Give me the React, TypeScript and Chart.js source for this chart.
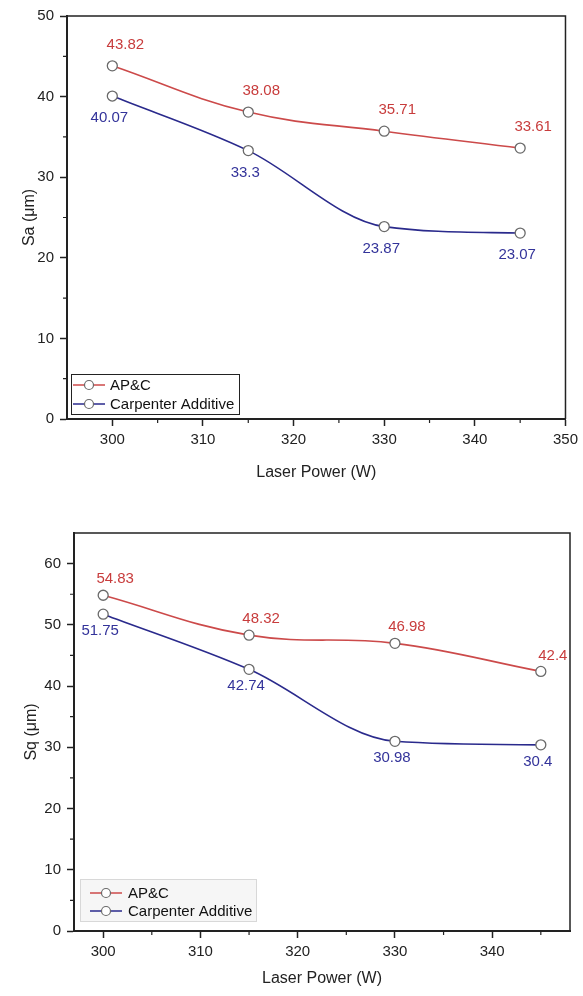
import React, { useEffect, useRef } from 'react';
import Chart from 'chart.js/auto';

// ---------- data ----------
const laserPower = [300, 315, 330, 345];
const seriesNames = ['AP&C', 'Carpenter Additive'];

const saAPC = [43.82, 38.08, 35.71, 33.61];
const saCarpenter = [40.07, 33.3, 23.87, 23.07];

const sqAPC = [54.83, 48.32, 46.98, 42.4];
const sqCarpenter = [51.75, 42.74, 30.98, 30.4];

const xTicksSa = [300, 310, 320, 330, 340, 350];
const yTicksSa = [0, 10, 20, 30, 40, 50];
const xMinorSa = [305, 315, 325, 335, 345];
const yMinorSa = [5, 15, 25, 35, 45];

const xTicksSq = [300, 310, 320, 330, 340];
const yTicksSq = [0, 10, 20, 30, 40, 50, 60];
const xMinorSq = [305, 315, 325, 335, 345];
const yMinorSq = [5, 15, 25, 35, 45, 55];

// ---------- styles ----------
const FONT = "'Liberation Sans', Arial, sans-serif";
const RED = '#cc4a4a';
const BLUE = '#2a2a8c';
const RED_TEXT = '#c83c3c';
const BLUE_TEXT = '#33339a';
const AXIS = '#222222';
const MARKER_EDGE = '#6a6a6a';

type Panel = {
  top: number;
  height: number;
  yTitle: string;
  apc: number[];
  carp: number[];
  xMin: number;
  xMax: number;
  yMin: number;
  yMax: number;
  xTicks: number[];
  yTicks: number[];
  xMinor: number[];
  yMinor: number[];
  pad: { top: number; right: number };
  yAxisWidth: number;
  xAxisHeight: number;
  yTitlePad: number;
  labelOffset: { redDx: number; redDy: number; blueDx: number; blueDy: number };
  legend: { dx: number; dy: number; w: number; h: number; lineX0: number; lineX1: number; circX: number; textX: number; rows: number[]; fill: string; border: string };
};

const panels: Panel[] = [
  {
    top: 0,
    height: 490,
    yTitle: 'Sa (μm)',
    apc: saAPC,
    carp: saCarpenter,
    xMin: 295,
    xMax: 350,
    yMin: 0,
    yMax: 50,
    xTicks: xTicksSa,
    yTicks: yTicksSa,
    xMinor: xMinorSa,
    yMinor: yMinorSa,
    pad: { top: 16, right: 16 },
    yAxisWidth: 67,
    xAxisHeight: 71,
    yTitlePad: 20,
    labelOffset: { redDx: 13, redDy: -21, blueDx: -3, blueDy: 22 },
    legend: { dx: 4, dy: -5, w: 168, h: 40, lineX0: 2, lineX1: 34, circX: 18, textX: 39, rows: [11, 30], fill: '#ffffff', border: '#222222' },
  },
  {
    top: 500,
    height: 496,
    yTitle: 'Sq (μm)',
    apc: sqAPC,
    carp: sqCarpenter,
    xMin: 297,
    xMax: 348,
    yMin: 0,
    yMax: 65,
    xTicks: xTicksSq,
    yTicks: yTicksSq,
    xMinor: xMinorSq,
    yMinor: yMinorSq,
    pad: { top: 33, right: 13 },
    yAxisWidth: 74,
    xAxisHeight: 65,
    yTitlePad: 22,
    labelOffset: { redDx: 12, redDy: -16, blueDx: -3, blueDy: 17 },
    legend: { dx: 6, dy: -10, w: 176, h: 42, lineX0: 10, lineX1: 42, circX: 26, textX: 48, rows: [14, 32], fill: '#f6f6f6', border: '#d8d8d8' },
  },
];

function buildConfig(p: Panel): any {
  const mk = (vals: number[]) => laserPower.map((x, i) => ({ x, y: vals[i] }));

  const framePlugin = {
    id: 'frame',
    afterDraw(chart: any) {
      const { ctx, chartArea: a } = chart;
      ctx.save();
      ctx.strokeStyle = AXIS;
      ctx.lineWidth = 1.5;
      ctx.beginPath();
      ctx.moveTo(a.left, a.top);
      ctx.lineTo(a.right, a.top);
      ctx.lineTo(a.right, a.bottom);
      ctx.stroke();
      // minor ticks
      ctx.lineWidth = 1.2;
      const xs = chart.scales.x;
      const ys = chart.scales.y;
      ctx.beginPath();
      p.xMinor.forEach((v) => {
        const px = xs.getPixelForValue(v);
        ctx.moveTo(px, a.bottom);
        ctx.lineTo(px, a.bottom + 4);
      });
      p.yMinor.forEach((v) => {
        const py = ys.getPixelForValue(v);
        ctx.moveTo(a.left, py);
        ctx.lineTo(a.left - 4, py);
      });
      ctx.stroke();
      ctx.restore();
    },
  };

  const labelPlugin = {
    id: 'valueLabels',
    afterDatasetsDraw(chart: any) {
      const { ctx } = chart;
      const o = p.labelOffset;
      ctx.save();
      ctx.font = `15px ${FONT}`;
      ctx.textAlign = 'center';
      ctx.textBaseline = 'middle';
      chart.data.datasets.forEach((ds: any, di: number) => {
        const meta = chart.getDatasetMeta(di);
        ctx.fillStyle = di === 0 ? RED_TEXT : BLUE_TEXT;
        const dx = di === 0 ? o.redDx : o.blueDx;
        const dy = di === 0 ? o.redDy : o.blueDy;
        meta.data.forEach((el: any, i: number) => {
          ctx.fillText(String(ds.data[i].y), el.x + dx, el.y + dy);
        });
      });
      ctx.restore();
    },
  };

  const legendPlugin = {
    id: 'boxLegend',
    afterDraw(chart: any) {
      const { ctx, chartArea: a } = chart;
      const L = p.legend;
      const x0 = a.left + L.dx;
      const y0 = a.bottom + L.dy - L.h;
      ctx.save();
      ctx.fillStyle = L.fill;
      ctx.fillRect(x0, y0, L.w, L.h);
      ctx.strokeStyle = L.border;
      ctx.lineWidth = 1;
      ctx.strokeRect(x0 + 0.5, y0 + 0.5, L.w, L.h);
      ctx.font = `15px ${FONT}`;
      ctx.textBaseline = 'middle';
      ctx.textAlign = 'left';
      seriesNames.forEach((name, i) => {
        const y = y0 + L.rows[i];
        ctx.strokeStyle = i === 0 ? RED : BLUE;
        ctx.lineWidth = 1.5;
        ctx.beginPath();
        ctx.moveTo(x0 + L.lineX0, y);
        ctx.lineTo(x0 + L.lineX1, y);
        ctx.stroke();
        ctx.beginPath();
        ctx.arc(x0 + L.circX, y, 4.5, 0, Math.PI * 2);
        ctx.fillStyle = '#ffffff';
        ctx.fill();
        ctx.strokeStyle = MARKER_EDGE;
        ctx.lineWidth = 1.2;
        ctx.stroke();
        ctx.fillStyle = '#111111';
        ctx.fillText(name, x0 + L.textX, y + 1);
      });
      ctx.restore();
    },
  };

  const dsCommon = {
    borderWidth: 1.6,
    pointRadius: 5,
    pointHoverRadius: 5,
    pointBackgroundColor: '#ffffff',
    pointBorderColor: MARKER_EDGE,
    pointBorderWidth: 1.3,
    fill: false,
  };

  return {
    type: 'line',
    data: {
      datasets: [
        { ...dsCommon, label: seriesNames[0], data: mk(p.apc), borderColor: RED, tension: 0.4 },
        { ...dsCommon, label: seriesNames[1], data: mk(p.carp), borderColor: BLUE, cubicInterpolationMode: 'monotone' },
      ],
    },
    options: {
      responsive: false,
      animation: false,
      devicePixelRatio: 1,
      layout: { padding: { top: p.pad.top, right: p.pad.right, left: 0, bottom: 0 } },
      plugins: { legend: { display: false }, tooltip: { enabled: false } },
      scales: {
        x: {
          type: 'linear',
          min: p.xMin,
          max: p.xMax,
          afterBuildTicks: (s: any) => {
            s.ticks = p.xTicks.map((v) => ({ value: v }));
          },
          afterFit: (s: any) => {
            s.height = p.xAxisHeight;
          },
          border: { color: AXIS, width: 2 },
          grid: { drawOnChartArea: false, tickLength: 7, tickWidth: 1.5, color: AXIS },
          ticks: { color: '#222', font: { family: FONT, size: 15 }, padding: 5, maxRotation: 0 },
          title: {
            display: true,
            text: 'Laser Power (W)',
            color: '#222',
            font: { family: FONT, size: 16 },
            padding: { top: 0, bottom: 8 },
          },
        },
        y: {
          type: 'linear',
          min: p.yMin,
          max: p.yMax,
          afterBuildTicks: (s: any) => {
            s.ticks = p.yTicks.map((v) => ({ value: v }));
          },
          afterFit: (s: any) => {
            s.width = p.yAxisWidth;
          },
          border: { color: AXIS, width: 2 },
          grid: { drawOnChartArea: false, tickLength: 7, tickWidth: 1.5, color: AXIS },
          ticks: { color: '#222', font: { family: FONT, size: 15 }, padding: 6 },
          title: {
            display: true,
            text: p.yTitle,
            color: '#222',
            font: { family: FONT, size: 16 },
            padding: { top: p.yTitlePad, bottom: 0 },
          },
        },
      },
    },
    plugins: [framePlugin, labelPlugin, legendPlugin],
  };
}

function PanelChart({ p }: { p: Panel }) {
  const ref = useRef<HTMLCanvasElement | null>(null);
  useEffect(() => {
    if (!ref.current) return;
    const chart = new Chart(ref.current, buildConfig(p));
    return () => chart.destroy();
  }, [p]);
  return (
    <canvas
      ref={ref}
      width={583}
      height={p.height}
      style={{ position: 'absolute', left: 0, top: p.top, width: 583, height: p.height }}
    />
  );
}

export default function App() {
  return (
    <div style={{ position: 'absolute', left: 0, top: 0, width: 583, height: 996, background: '#ffffff' }}>
      {panels.map((p, i) => (
        <PanelChart key={i} p={p} />
      ))}
    </div>
  );
}
